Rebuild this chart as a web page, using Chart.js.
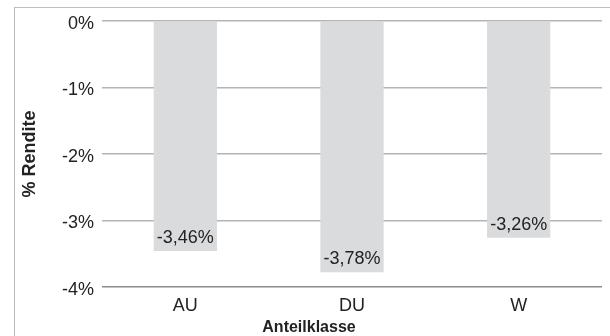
<!DOCTYPE html>
<html><head><meta charset="utf-8">
<script src="https://cdn.jsdelivr.net/npm/chart.js@4"></script>
<style>
html,body{margin:0;padding:0;background:#fff;}
#wrap{position:relative;width:610px;height:336px;overflow:hidden;}
canvas{position:absolute;left:0;top:0;}
#frame{position:absolute;left:14px;top:7px;right:-5px;bottom:-5px;border-top:1px solid #bdbdbd;border-left:1px solid #bdbdbd;pointer-events:none;}
</style></head><body>
<div id="wrap"><canvas id="c" width="610" height="336"></canvas><div id="frame"></div></div>
<script>
const categories = ['AU', 'DU', 'W'];
const returns = [-3.46, -3.78, -3.26];
const yMin = -4;
const yMax = 0;
const yStep = 1;
const xTitle = 'Anteilklasse';
const yTitle = '% Rendite';

const FONT = "'Liberation Sans', Arial, Helvetica, sans-serif";
const fmt = v => v.toFixed(2).replace('.', ',') + '%';

const valueLabels = {
  id: 'valueLabels',
  afterDatasetsDraw(chart) {
    const ctx = chart.ctx;
    const meta = chart.getDatasetMeta(0);
    ctx.save();
    ctx.font = '18px ' + FONT;
    ctx.fillStyle = '#222';
    ctx.textAlign = 'center';
    ctx.textBaseline = 'middle';
    meta.data.forEach((bar, i) => {
      ctx.fillText(fmt(returns[i]), bar.x, bar.y - 13);
    });
    ctx.restore();
  }
};

new Chart(document.getElementById('c'), {
  type: 'bar',
  data: {
    labels: categories,
    datasets: [{
      data: returns,
      backgroundColor: '#dadbdd',
      borderWidth: 0,
      categoryPercentage: 1,
      barPercentage: 0.38
    }]
  },
  options: {
    responsive: false,
    animation: false,
    devicePixelRatio: 1,
    layout: { padding: { left: 16, right: 8, top: 21, bottom: 0 } },
    plugins: {
      legend: { display: false },
      tooltip: { enabled: false },
      title: {
        display: true, position: 'bottom', fullSize: true, text: xTitle, color: '#222',
        font: { family: FONT, size: 16, weight: 'bold', lineHeight: 1 },
        padding: { top: 0, bottom: 0 }
      }
    },
    scales: {
      x: {
        grid: { display: false, drawTicks: false },
        border: { display: false },
        ticks: { color: '#222', font: { family: FONT, size: 18 }, padding: 8 },
        afterFit: s => { s.height = 33; }
      },
      y: {
        min: yMin, max: yMax,
        ticks: { stepSize: yStep, color: '#222', font: { family: FONT, size: 18 }, padding: 8, labelOffset: 3, callback: v => v + '%' },
        grid: { drawTicks: false, color: ctx => ctx.tick && ctx.tick.value === yMin ? '#8c8c8c' : '#b4b4b4', lineWidth: 1.5 },
        border: { display: false },
        title: { display: true, text: yTitle, color: '#222', font: { family: FONT, size: 18, weight: 'bold', lineHeight: 1 }, padding: { top: 5, bottom: 4 } },
        afterFit: s => { s.width = 86; }
      }
    }
  },
  plugins: [valueLabels]
});
</script>
</body></html>
